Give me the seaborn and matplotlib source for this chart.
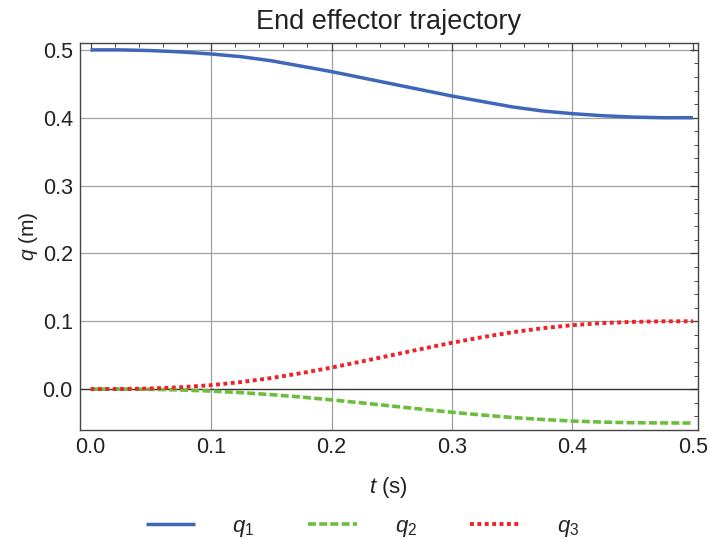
import matplotlib
matplotlib.use("Agg")
import matplotlib.pyplot as plt
import seaborn as sns
import pandas as pd
from matplotlib.ticker import MultipleLocator

# time samples (s)
t = [0.000, 0.025, 0.050, 0.075, 0.100, 0.125, 0.150, 0.175, 0.200, 0.225, 0.250,
     0.275, 0.300, 0.325, 0.350, 0.375, 0.400, 0.425, 0.450, 0.475, 0.500]
# joint values (m)
q1 = [0.500, 0.500, 0.499, 0.497, 0.494, 0.490, 0.484, 0.476, 0.468, 0.459, 0.450,
      0.441, 0.432, 0.424, 0.416, 0.410, 0.406, 0.403, 0.401, 0.400, 0.400]
q2 = [0.0000, 0.0000, -0.0004, -0.0013, -0.0029, -0.0052, -0.0082, -0.0118, -0.0159, -0.0203, -0.0250,
      -0.0297, -0.0342, -0.0382, -0.0419, -0.0448, -0.0471, -0.0487, -0.0496, -0.0499, -0.0500]
q3 = [0.0000, 0.0001, 0.0009, 0.0027, 0.0058, 0.0104, 0.0163, 0.0235, 0.0317, 0.0407, 0.0500,
      0.0593, 0.0683, 0.0765, 0.0837, 0.0897, 0.0942, 0.0973, 0.0991, 0.0999, 0.1000]
labels = [r"$q_1$", r"$q_2$", r"$q_3$"]

df = pd.DataFrame({"t": t, "q1": q1, "q2": q2, "q3": q3})

sns.set_style("white")
plt.rcParams["font.family"] = ["Liberation Sans", "DejaVu Sans"]
plt.rcParams["mathtext.fontset"] = "custom"
plt.rcParams["mathtext.it"] = "Liberation Sans:italic"
plt.rcParams["mathtext.rm"] = "Liberation Sans"

fig = plt.figure(figsize=(7.12, 5.39), dpi=100)
ax = fig.add_axes([0.112, 0.202, 0.868, 0.718])

# grid + zero axis
for v in [0.1, 0.2, 0.3, 0.4]:
    ax.axvline(v, color="#a0a0a0", lw=0.9, zorder=0)
for v in [0.1, 0.2, 0.3, 0.4, 0.5]:
    ax.axhline(v, color="#a0a0a0", lw=0.9, zorder=0)
ax.axhline(0, color="#333333", lw=1.0, zorder=1)

blue, green, red = "#3f66b8", "#6bbe3c", "#ee2229"
sns.lineplot(data=df, x="t", y="q1", ax=ax, color=blue, lw=2.5, label=labels[0])
sns.lineplot(data=df, x="t", y="q2", ax=ax, color=green, lw=2.6, label=labels[1],
             dashes=False, linestyle=(0, (2.2, 0.9)))
sns.lineplot(data=df, x="t", y="q3", ax=ax, color=red, lw=2.8, label=labels[2],
             dashes=False, linestyle=(0, (1.0, 0.9)))
for ln in ax.lines[-3:]:
    ln.set_solid_capstyle("butt")
    ln.set_dash_capstyle("butt")

ax.set_xlim(-0.009, 0.504)
ax.set_ylim(-0.0605, 0.510)
ax.xaxis.set_major_locator(MultipleLocator(0.1))
ax.xaxis.set_minor_locator(MultipleLocator(0.02))
ax.yaxis.set_major_locator(MultipleLocator(0.1))
ax.yaxis.set_minor_locator(MultipleLocator(0.02))
ax.tick_params(which="both", direction="in", top=True, right=True, color="#444444",
               labelsize=15.5, labelcolor="#222222")
ax.tick_params(which="major", length=6, width=0.9, pad=5)
ax.tick_params(which="minor", length=3, width=0.7)
ax.xaxis.set_major_formatter(plt.FormatStrFormatter("%.1f"))
ax.yaxis.set_major_formatter(plt.FormatStrFormatter("%.1f"))
for s in ax.spines.values():
    s.set_color("#444444")
    s.set_linewidth(1.0)

ax.set_title("End effector trajectory", fontsize=19.5, color="#222222", pad=10)
ax.set_xlabel(r"$t$ (s)", fontsize=16, color="#222222", labelpad=12)
ax.set_ylabel(r"$q$ (m)", fontsize=15, color="#222222", labelpad=2)

handles, lbls = ax.get_legend_handles_labels()
ax.get_legend().remove()
fig.legend(handles, lbls, loc="lower center", bbox_to_anchor=(0.509, -0.037), ncol=3,
           frameon=False, fontsize=16, handlelength=2.2, handletextpad=1.7,
           columnspacing=2.4)

fig.savefig("out.png", dpi=100)
